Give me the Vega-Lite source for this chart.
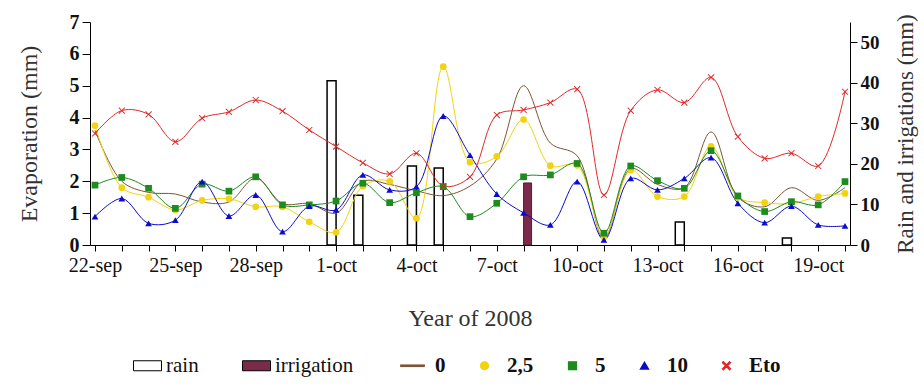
{
  "$schema": "https://vega.github.io/schema/vega-lite/v6.json",
  "width": 760,
  "height": 223,
  "autosize": {"type": "none"},
  "padding": {"left": 90, "top": 22, "right": 74, "bottom": 140},
  "background": "white",
  "config": {
    "font": "Liberation Serif",
    "view": {"stroke": null},
    "axis": {"grid": false, "domainColor": "black", "tickColor": "black", "labelFont": "Liberation Serif", "titleFont": "Liberation Serif", "titleFontWeight": "normal", "titleColor": "#333", "labelColor": "#111"},
    "legend": {"title": null, "labelFont": "Liberation Serif", "labelFontSize": 21, "labelColor": "#111", "direction": "horizontal"}
  },
  "datasets": {
    "rain": [
      {"d": "2008-10-01", "s": "rain", "v": 40.5},
      {"d": "2008-10-02", "s": "rain", "v": 12.3},
      {"d": "2008-10-04", "s": "rain", "v": 19.5},
      {"d": "2008-10-05", "s": "rain", "v": 19.0},
      {"d": "2008-10-14", "s": "rain", "v": 5.7},
      {"d": "2008-10-18", "s": "rain", "v": 1.7},
      {"d": "2008-10-08", "s": "irrigation", "v": 15.3}
    ],
    "evap": [
      {"d": "2008-09-22", "s": "0", "v": 3.6}, {"d": "2008-09-23", "s": "0", "v": 2.0}, {"d": "2008-09-24", "s": "0", "v": 1.65}, {"d": "2008-09-25", "s": "0", "v": 1.6}, {"d": "2008-09-26", "s": "0", "v": 1.35}, {"d": "2008-09-27", "s": "0", "v": 1.35}, {"d": "2008-09-28", "s": "0", "v": 2.1}, {"d": "2008-09-29", "s": "0", "v": 1.3}, {"d": "2008-09-30", "s": "0", "v": 1.3}, {"d": "2008-10-01", "s": "0", "v": 1.0}, {"d": "2008-10-02", "s": "0", "v": 2.0}, {"d": "2008-10-03", "s": "0", "v": 1.9}, {"d": "2008-10-04", "s": "0", "v": 1.7}, {"d": "2008-10-05", "s": "0", "v": 1.55}, {"d": "2008-10-06", "s": "0", "v": 1.85}, {"d": "2008-10-07", "s": "0", "v": 2.7}, {"d": "2008-10-08", "s": "0", "v": 5.0}, {"d": "2008-10-09", "s": "0", "v": 3.2}, {"d": "2008-10-10", "s": "0", "v": 2.8}, {"d": "2008-10-11", "s": "0", "v": 0.2}, {"d": "2008-10-12", "s": "0", "v": 2.4}, {"d": "2008-10-13", "s": "0", "v": 1.9}, {"d": "2008-10-14", "s": "0", "v": 1.8}, {"d": "2008-10-15", "s": "0", "v": 3.55}, {"d": "2008-10-16", "s": "0", "v": 1.5}, {"d": "2008-10-17", "s": "0", "v": 1.2}, {"d": "2008-10-18", "s": "0", "v": 1.8}, {"d": "2008-10-19", "s": "0", "v": 1.4}, {"d": "2008-10-20", "s": "0", "v": 1.8},
      {"d": "2008-09-22", "s": "2,5", "v": 3.75}, {"d": "2008-09-23", "s": "2,5", "v": 1.8}, {"d": "2008-09-24", "s": "2,5", "v": 1.5}, {"d": "2008-09-25", "s": "2,5", "v": 1.1}, {"d": "2008-09-26", "s": "2,5", "v": 1.4}, {"d": "2008-09-27", "s": "2,5", "v": 1.45}, {"d": "2008-09-28", "s": "2,5", "v": 1.2}, {"d": "2008-09-29", "s": "2,5", "v": 1.2}, {"d": "2008-09-30", "s": "2,5", "v": 0.73}, {"d": "2008-10-01", "s": "2,5", "v": 0.4}, {"d": "2008-10-02", "s": "2,5", "v": 1.85}, {"d": "2008-10-03", "s": "2,5", "v": 2.0}, {"d": "2008-10-04", "s": "2,5", "v": 0.84}, {"d": "2008-10-05", "s": "2,5", "v": 5.6}, {"d": "2008-10-06", "s": "2,5", "v": 2.6}, {"d": "2008-10-07", "s": "2,5", "v": 2.78}, {"d": "2008-10-08", "s": "2,5", "v": 3.94}, {"d": "2008-10-09", "s": "2,5", "v": 2.49}, {"d": "2008-10-10", "s": "2,5", "v": 2.5}, {"d": "2008-10-11", "s": "2,5", "v": 0.25}, {"d": "2008-10-12", "s": "2,5", "v": 2.35}, {"d": "2008-10-13", "s": "2,5", "v": 1.52}, {"d": "2008-10-14", "s": "2,5", "v": 1.52}, {"d": "2008-10-15", "s": "2,5", "v": 3.1}, {"d": "2008-10-16", "s": "2,5", "v": 1.5}, {"d": "2008-10-17", "s": "2,5", "v": 1.33}, {"d": "2008-10-18", "s": "2,5", "v": 1.3}, {"d": "2008-10-19", "s": "2,5", "v": 1.52}, {"d": "2008-10-20", "s": "2,5", "v": 1.62},
      {"d": "2008-09-22", "s": "5", "v": 1.88}, {"d": "2008-09-23", "s": "5", "v": 2.12}, {"d": "2008-09-24", "s": "5", "v": 1.78}, {"d": "2008-09-25", "s": "5", "v": 1.15}, {"d": "2008-09-26", "s": "5", "v": 1.91}, {"d": "2008-09-27", "s": "5", "v": 1.69}, {"d": "2008-09-28", "s": "5", "v": 2.14}, {"d": "2008-09-29", "s": "5", "v": 1.26}, {"d": "2008-09-30", "s": "5", "v": 1.26}, {"d": "2008-10-01", "s": "5", "v": 1.38}, {"d": "2008-10-02", "s": "5", "v": 1.94}, {"d": "2008-10-03", "s": "5", "v": 1.33}, {"d": "2008-10-04", "s": "5", "v": 1.64}, {"d": "2008-10-05", "s": "5", "v": 1.83}, {"d": "2008-10-06", "s": "5", "v": 0.89}, {"d": "2008-10-07", "s": "5", "v": 1.31}, {"d": "2008-10-08", "s": "5", "v": 2.14}, {"d": "2008-10-09", "s": "5", "v": 2.2}, {"d": "2008-10-10", "s": "5", "v": 2.56}, {"d": "2008-10-11", "s": "5", "v": 0.37}, {"d": "2008-10-12", "s": "5", "v": 2.48}, {"d": "2008-10-13", "s": "5", "v": 2.02}, {"d": "2008-10-14", "s": "5", "v": 1.78}, {"d": "2008-10-15", "s": "5", "v": 2.96}, {"d": "2008-10-16", "s": "5", "v": 1.54}, {"d": "2008-10-17", "s": "5", "v": 1.05}, {"d": "2008-10-18", "s": "5", "v": 1.36}, {"d": "2008-10-19", "s": "5", "v": 1.26}, {"d": "2008-10-20", "s": "5", "v": 1.99},
      {"d": "2008-09-22", "s": "10", "v": 0.89}, {"d": "2008-09-23", "s": "10", "v": 1.46}, {"d": "2008-09-24", "s": "10", "v": 0.68}, {"d": "2008-09-25", "s": "10", "v": 0.78}, {"d": "2008-09-26", "s": "10", "v": 1.99}, {"d": "2008-09-27", "s": "10", "v": 0.91}, {"d": "2008-09-28", "s": "10", "v": 1.57}, {"d": "2008-09-29", "s": "10", "v": 0.42}, {"d": "2008-09-30", "s": "10", "v": 1.22}, {"d": "2008-10-01", "s": "10", "v": 1.1}, {"d": "2008-10-02", "s": "10", "v": 2.2}, {"d": "2008-10-03", "s": "10", "v": 1.73}, {"d": "2008-10-04", "s": "10", "v": 1.83}, {"d": "2008-10-05", "s": "10", "v": 4.05}, {"d": "2008-10-06", "s": "10", "v": 2.82}, {"d": "2008-10-07", "s": "10", "v": 1.6}, {"d": "2008-10-08", "s": "10", "v": 1.01}, {"d": "2008-10-09", "s": "10", "v": 0.63}, {"d": "2008-10-10", "s": "10", "v": 1.99}, {"d": "2008-10-11", "s": "10", "v": 0.16}, {"d": "2008-10-12", "s": "10", "v": 2.09}, {"d": "2008-10-13", "s": "10", "v": 1.73}, {"d": "2008-10-14", "s": "10", "v": 2.09}, {"d": "2008-10-15", "s": "10", "v": 2.74}, {"d": "2008-10-16", "s": "10", "v": 1.31}, {"d": "2008-10-17", "s": "10", "v": 0.7}, {"d": "2008-10-18", "s": "10", "v": 1.22}, {"d": "2008-10-19", "s": "10", "v": 0.63}, {"d": "2008-10-20", "s": "10", "v": 0.6},
      {"d": "2008-09-22", "s": "Eto", "v": 3.5}, {"d": "2008-09-23", "s": "Eto", "v": 4.22}, {"d": "2008-09-24", "s": "Eto", "v": 4.1}, {"d": "2008-09-25", "s": "Eto", "v": 3.24}, {"d": "2008-09-26", "s": "Eto", "v": 3.98}, {"d": "2008-09-27", "s": "Eto", "v": 4.18}, {"d": "2008-09-28", "s": "Eto", "v": 4.55}, {"d": "2008-09-29", "s": "Eto", "v": 4.2}, {"d": "2008-09-30", "s": "Eto", "v": 3.61}, {"d": "2008-10-01", "s": "Eto", "v": 3.09}, {"d": "2008-10-02", "s": "Eto", "v": 2.58}, {"d": "2008-10-03", "s": "Eto", "v": 2.23}, {"d": "2008-10-04", "s": "Eto", "v": 2.88}, {"d": "2008-10-05", "s": "Eto", "v": 1.85}, {"d": "2008-10-06", "s": "Eto", "v": 2.14}, {"d": "2008-10-07", "s": "Eto", "v": 4.08}, {"d": "2008-10-08", "s": "Eto", "v": 4.24}, {"d": "2008-10-09", "s": "Eto", "v": 4.47}, {"d": "2008-10-10", "s": "Eto", "v": 4.89}, {"d": "2008-10-11", "s": "Eto", "v": 1.57}, {"d": "2008-10-12", "s": "Eto", "v": 4.22}, {"d": "2008-10-13", "s": "Eto", "v": 4.87}, {"d": "2008-10-14", "s": "Eto", "v": 4.47}, {"d": "2008-10-15", "s": "Eto", "v": 5.26}, {"d": "2008-10-16", "s": "Eto", "v": 3.4}, {"d": "2008-10-17", "s": "Eto", "v": 2.72}, {"d": "2008-10-18", "s": "Eto", "v": 2.88}, {"d": "2008-10-19", "s": "Eto", "v": 2.48}, {"d": "2008-10-20", "s": "Eto", "v": 4.81}
    ]
  },
  "encoding": {
    "x": {
      "field": "d", "type": "temporal",
      "scale": {"type": "utc", "domain": [{"year": 2008, "month": 9, "date": 22, "utc": true}, {"year": 2008, "month": 10, "date": 20, "utc": true}], "nice": false},
      "axis": {
        "title": "Year of 2008",
        "tickCount": {"interval": "day", "step": 1},
        "labelExpr": "round((datum.value - utc(2008,8,22)) / 86400000) % 3 === 0 ? lower(utcFormat(datum.value, '%-d-%b')) : ''",
        "labelOverlap": false, "labelFlush": false,
        "labelFont": "Liberation Serif", "titleFont": "Liberation Serif",
        "labelFontSize": 20, "labelPadding": 4, "tickSize": 6,
        "titleFontSize": 24, "titlePadding": 31
      }
    }
  },
  "layer": [
    {
      "data": {"name": "rain"},
      "encoding": {
        "y": {
          "field": "v", "type": "quantitative",
          "scale": {"domain": [0, 55], "nice": false},
          "axis": {"orient": "right", "title": "Rain and irrigations (mm)", "values": [0, 10, 20, 30, 40, 50], "labelFont": "Liberation Serif", "titleFont": "Liberation Serif", "labelFontSize": 19, "labelFontWeight": "bold", "labelPadding": 3, "tickSize": 7, "titleFontSize": 23, "titleAngle": 270, "titlePadding": 38}
        },
        "fill": {
          "field": "s", "type": "nominal",
          "scale": {"domain": ["rain", "irrigation"], "range": ["white", "#7a2a4a"]},
          "legend": {
            "orient": "none", "legendX": 47, "legendY": 333,
            "symbolType": "M-1.4,-0.5H1.4V0.5H-1.4Z", "symbolSize": 400,
            "symbolStrokeColor": "black", "symbolStrokeWidth": 1,
            "labelOffset": 8, "columnPadding": 41, "labelFontWeight": "normal"
          }
        }
      },
      "layer": [
        {"transform": [{"filter": "datum.s === 'rain'"}], "mark": {"type": "bar", "width": 9, "xOffset": -4.5, "stroke": "black", "strokeWidth": 1.5}},
        {"transform": [{"filter": "datum.s === 'irrigation'"}], "mark": {"type": "bar", "width": 8, "xOffset": 4, "stroke": "#5a1a32", "strokeWidth": 1}}
      ]
    },
    {
      "data": {"name": "evap"},
      "encoding": {
        "y": {
          "field": "v", "type": "quantitative",
          "scale": {"domain": [0, 7], "nice": false},
          "axis": {"orient": "left", "title": "Evaporation (mm)", "values": [0, 1, 2, 3, 4, 5, 6, 7], "labelFont": "Liberation Serif", "titleFont": "Liberation Serif", "labelFontSize": 20, "labelFontWeight": "bold", "labelPadding": 3, "tickSize": 8, "titleFontSize": 24, "titlePadding": 28}
        },
        "color": {
          "field": "s", "type": "nominal",
          "scale": {"domain": ["0", "2,5", "5", "10", "Eto"], "range": ["#7b5535", "#f2d211", "#1d8b1d", "#0a0ad0", "#e02828"]},
          "legend": {
            "orient": "none", "legendX": 312, "legendY": 333,
            "symbolSize": 60, "labelOffset": 12, "columnPadding": 28, "labelFontWeight": "bold"
          }
        }
      },
      "layer": [
        {"mark": {"type": "line", "interpolate": "catmull-rom", "strokeWidth": 1}},
        {
          "transform": [{"filter": "datum.s !== '0'"}],
          "mark": {"type": "point", "filled": true, "opacity": 1, "size": 45},
          "encoding": {
            "shape": {
              "field": "s", "type": "nominal",
              "scale": {"domain": ["0", "2,5", "5", "10", "Eto"], "range": ["M-3,-0.15H3V0.15H-3Z", "circle", "square", "triangle-up", "M-1,-0.8L-0.8,-1L0,-0.2L0.8,-1L1,-0.8L0.2,0L1,0.8L0.8,1L0,0.2L-0.8,1L-1,0.8L-0.2,0Z"]},
              "legend": {
                "orient": "none", "legendX": 312, "legendY": 333,
                "symbolSize": 60, "labelOffset": 12, "columnPadding": 28, "labelFontWeight": "bold"
              }
            }
          }
        }
      ]
    }
  ],
  "resolve": {"scale": {"y": "independent"}}
}
